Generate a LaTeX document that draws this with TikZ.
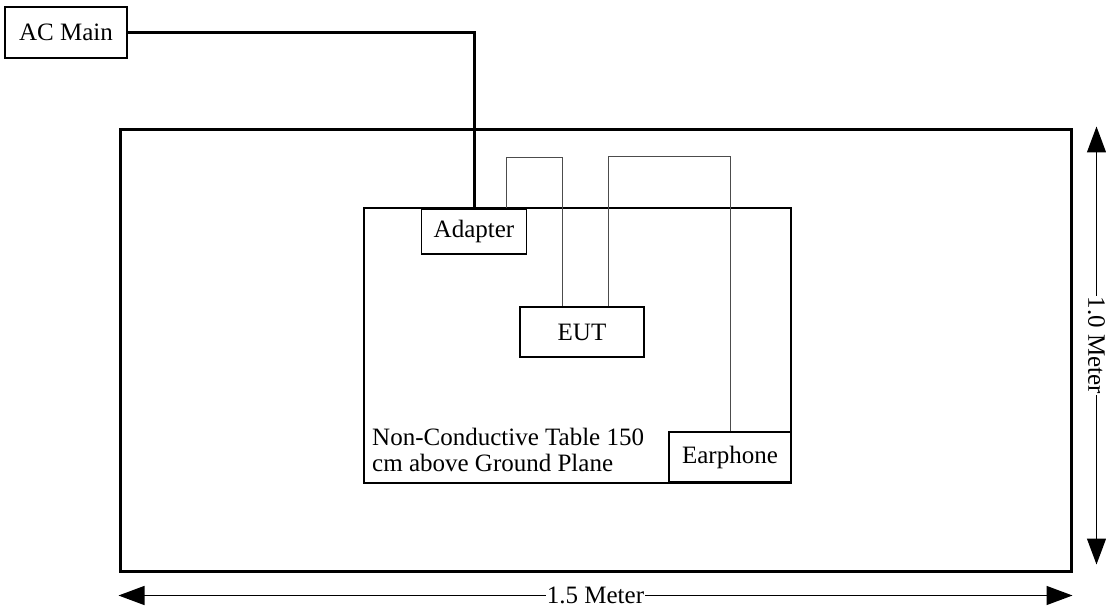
\documentclass[tikz,border=0pt]{standalone}
\usepackage{fontspec}
\setmainfont{Liberation Serif}
\usetikzlibrary{arrows.meta}
\tikzset{
  box/.style={draw,line width=1.3pt,inner sep=0pt,font=\fontsize{25}{27}\selectfont},
  mains/.style={line width=3pt},
  cable/.style={line width=1pt,draw=black!70},
  dim/.style={line width=1.4pt,{Triangle[length=26pt,width=19pt]}-{Triangle[length=26pt,width=19pt]}},
}
\begin{document}
\begin{tikzpicture}[x=1pt,y=-1pt]
	\useasboundingbox (0,0) rectangle (1106,607);
	% ground plane and table
	\node[box,line width=3pt,minimum width=951,minimum height=441] (plane) at (595.5,350.5) {};
	\node[box,minimum width=427,minimum height=275] (table) at (577.5,345.5) {};
	\node[font=\fontsize{25}{26}\selectfont,align=left,anchor=west,inner sep=0pt] (tabletext) at (372,450) {Non-Conductive Table 150\\cm above Ground Plane};
	% equipment
	\node[box,minimum width=122,minimum height=51] (acmain) at (66,32.5) {AC Main};
	\node[box,minimum width=105,minimum height=45] (adapter) at (474,231.5) {Adapter};
	\node[box,minimum width=124,minimum height=50] (eut) at (582,332) {EUT};
	\node[box,minimum width=122,minimum height=50] (earphone) at (730,457) {Earphone};
	% cables
	\draw[mains] (acmain.east) -| (adapter.north);
	\draw[cable] ([xshift=-21pt]adapter.north east) -- ++(0,-51) -| ([xshift=-20pt]eut.north);
	\draw[cable] ([xshift=26pt]eut.north) -- ++(0,-150) -| (earphone.north);
	% dimensions
	\draw[dim] ([yshift=-23pt]plane.south west) -- node[fill=white,inner sep=1pt,font=\fontsize{25}{27}\selectfont] (width) {1.5 Meter} ([yshift=-23pt]plane.south east);
	\draw[dim] ([xshift=24pt,yshift=2pt]plane.north east) -- node[fill=white,inner sep=1pt,rotate=-90,font=\fontsize{25}{27}\selectfont] (height) {1.0 Meter} ([xshift=24pt,yshift=8pt]plane.south east);
\end{tikzpicture}
\end{document}
